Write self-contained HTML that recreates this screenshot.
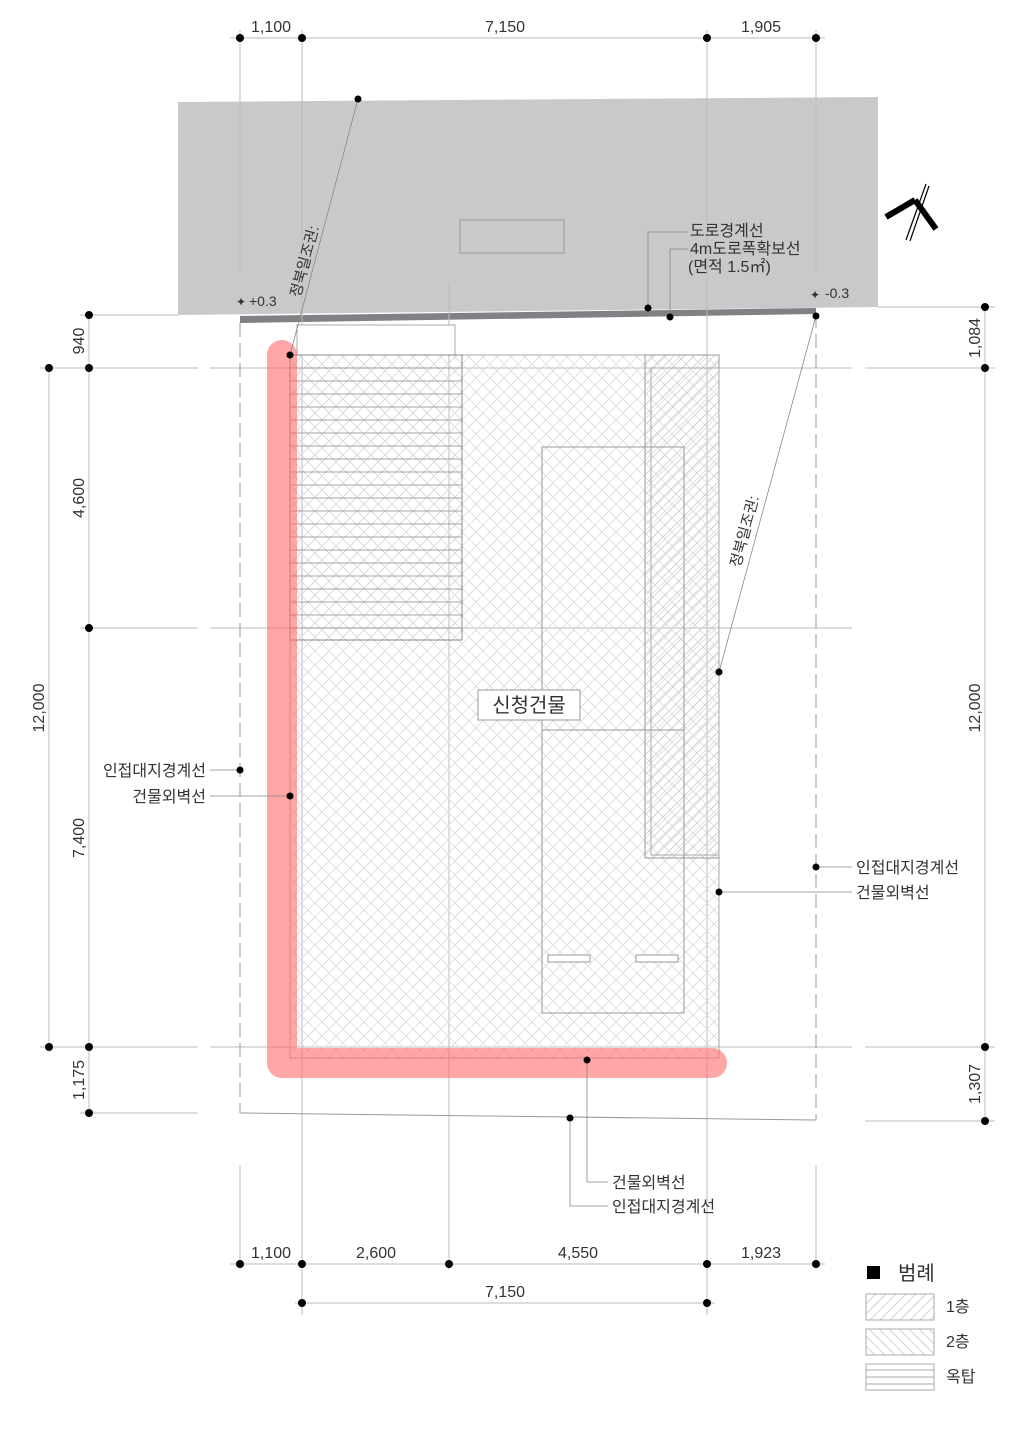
<!DOCTYPE html>
<html><head><meta charset="utf-8"><style>
html,body{margin:0;padding:0;background:#fff}
svg{display:block}
text{font-family:"Liberation Sans","Noto Sans CJK KR",sans-serif;fill:#333}
</style></head><body>
<svg width="1024" height="1429" viewBox="0 0 1024 1429" xmlns="http://www.w3.org/2000/svg">
<defs>
<pattern id="h1" width="10" height="10" patternUnits="userSpaceOnUse"><path d="M0 10L10 0M-2 2L2 -2M8 12L12 8" stroke="#ccc" stroke-width="0.8"/></pattern>
<pattern id="h2" width="10" height="10" patternUnits="userSpaceOnUse"><path d="M0 0L10 10M-2 8L2 12M8 -2L12 2" stroke="#ccc" stroke-width="0.8"/></pattern>
<pattern id="hx" width="14" height="14" patternUnits="userSpaceOnUse"><path d="M0 0L14 14M14 0L0 14" stroke="#dcdcdc" stroke-width="0.8"/></pattern>
</defs>
<polygon points="178,102 878,97 878,307 178,315" fill="#c8c9cb"/>
<polygon points="240,316 816,308 816,314 240,323" fill="#808184"/>
<rect x="460" y="220" width="104" height="33" fill="none" stroke="#999"/>
<g stroke="#bbb" stroke-width="1">
<line x1="240" y1="30" x2="240" y2="270"/><line x1="302" y1="30" x2="302" y2="1315"/>
<line x1="707" y1="30" x2="707" y2="1315"/><line x1="816" y1="30" x2="816" y2="270"/>
<line x1="449" y1="283" x2="449" y2="1270"/>
<line x1="240" y1="1165" x2="240" y2="1270"/><line x1="816" y1="1165" x2="816" y2="1270"/>
<line x1="230" y1="38" x2="825" y2="38"/>
<line x1="230" y1="1264" x2="825" y2="1264"/><line x1="295" y1="1303" x2="715" y2="1303"/>
<line x1="40" y1="368" x2="198" y2="368"/><line x1="210" y1="368" x2="852" y2="368"/><line x1="865" y1="368" x2="995" y2="368"/>
<line x1="80" y1="628" x2="198" y2="628"/><line x1="210" y1="628" x2="852" y2="628"/>
<line x1="40" y1="1047" x2="198" y2="1047"/><line x1="210" y1="1047" x2="852" y2="1047"/><line x1="865" y1="1047" x2="995" y2="1047"/>
<line x1="80" y1="315" x2="178" y2="315"/><line x1="878" y1="307" x2="995" y2="307"/>
<line x1="80" y1="1113" x2="198" y2="1113"/><line x1="865" y1="1121" x2="995" y2="1121"/>
<line x1="89" y1="315" x2="89" y2="1113"/><line x1="49" y1="368" x2="49" y2="1047"/>
<line x1="985" y1="307" x2="985" y2="1121"/>
</g>
<g stroke="#999" stroke-width="1" fill="none">
<line x1="240" y1="323" x2="240" y2="1113" stroke-dasharray="14,6"/>
<line x1="816" y1="314" x2="816" y2="1120" stroke-dasharray="14,6"/>
<line x1="240" y1="1113" x2="816" y2="1120"/>
</g>
<rect x="290" y="355" width="429" height="703" fill="url(#hx)" stroke="#aaa"/>
<rect x="645" y="355" width="74" height="503" fill="url(#h1)" stroke="#999"/>
<rect x="651" y="368" width="68" height="487" fill="none" stroke="#aaa"/>
<rect x="297" y="325" width="158" height="30" fill="#fff" stroke="#aaa"/>
<rect x="290" y="355" width="172" height="285" fill="url(#hx)" stroke="#888"/>
<g stroke="#888" stroke-width="0.8">
<line x1="290" y1="368" x2="462" y2="368"/><line x1="290" y1="381" x2="462" y2="381"/><line x1="290" y1="394" x2="462" y2="394"/><line x1="290" y1="407" x2="462" y2="407"/><line x1="290" y1="420" x2="462" y2="420"/><line x1="290" y1="433" x2="462" y2="433"/><line x1="290" y1="446" x2="462" y2="446"/><line x1="290" y1="459" x2="462" y2="459"/><line x1="290" y1="472" x2="462" y2="472"/><line x1="290" y1="485" x2="462" y2="485"/><line x1="290" y1="498" x2="462" y2="498"/><line x1="290" y1="511" x2="462" y2="511"/><line x1="290" y1="524" x2="462" y2="524"/><line x1="290" y1="537" x2="462" y2="537"/><line x1="290" y1="550" x2="462" y2="550"/><line x1="290" y1="563" x2="462" y2="563"/><line x1="290" y1="576" x2="462" y2="576"/><line x1="290" y1="589" x2="462" y2="589"/><line x1="290" y1="602" x2="462" y2="602"/><line x1="290" y1="615" x2="462" y2="615"/><line x1="290" y1="628" x2="462" y2="628"/>
</g>
<rect x="542" y="447" width="142" height="566" fill="none" stroke="#999"/>
<line x1="542" y1="730" x2="684" y2="730" stroke="#999"/>
<rect x="548" y="955" width="42" height="7" fill="#fff" stroke="#999"/>
<rect x="636" y="955" width="42" height="7" fill="#fff" stroke="#999"/>
<rect x="478" y="690" width="102" height="30" fill="#fff" stroke="#999"/>
<text x="529" y="712" font-size="20" text-anchor="middle">신청건물</text>
<path d="M282 355 L282 1063 L712 1063" fill="none" stroke="#ff6b6b" stroke-opacity="0.6" stroke-width="30" stroke-linecap="round" stroke-linejoin="round"/>
<g stroke="#888" stroke-width="0.8" fill="none">
<line x1="358" y1="99" x2="290" y2="355"/>
<line x1="816" y1="316" x2="719" y2="672"/>
<polyline points="648,308 648,232 688,232"/><polyline points="670,317 670,249 688,249"/>
<line x1="210" y1="770" x2="240" y2="770"/><line x1="210" y1="796" x2="290" y2="796"/>
<line x1="816" y1="867" x2="852" y2="867"/><line x1="719" y1="892" x2="852" y2="892"/>
<polyline points="587,1060 587,1182 608,1182"/><polyline points="570,1118 570,1206 608,1206"/>
</g>
<g fill="#000">
<circle cx="240" cy="38" r="4"/><circle cx="302" cy="38" r="4"/><circle cx="707" cy="38" r="4"/><circle cx="816" cy="38" r="4"/>
<circle cx="240" cy="1264" r="4"/><circle cx="302" cy="1264" r="4"/><circle cx="449" cy="1264" r="4"/><circle cx="707" cy="1264" r="4"/><circle cx="816" cy="1264" r="4"/>
<circle cx="302" cy="1303" r="4"/><circle cx="707" cy="1303" r="4"/>
<circle cx="89" cy="315" r="4"/><circle cx="89" cy="368" r="4"/><circle cx="89" cy="628" r="4"/><circle cx="89" cy="1047" r="4"/><circle cx="89" cy="1113" r="4"/>
<circle cx="49" cy="368" r="4"/><circle cx="49" cy="1047" r="4"/>
<circle cx="985" cy="307" r="4"/><circle cx="985" cy="368" r="4"/><circle cx="985" cy="1047" r="4"/><circle cx="985" cy="1121" r="4"/>
<circle cx="358" cy="99" r="3.5"/><circle cx="290" cy="355" r="3.5"/><circle cx="648" cy="308" r="3.5"/><circle cx="670" cy="317" r="3.5"/>
<circle cx="816" cy="316" r="3.5"/><circle cx="719" cy="672" r="3.5"/><circle cx="240" cy="770" r="3.5"/><circle cx="290" cy="796" r="3.5"/>
<circle cx="816" cy="867" r="3.5"/><circle cx="719" cy="892" r="3.5"/><circle cx="587" cy="1060" r="3.5"/><circle cx="570" cy="1118" r="3.5"/>
</g>
<g font-size="16">
<text x="271" y="32" text-anchor="middle">1,100</text><text x="505" y="32" text-anchor="middle">7,150</text><text x="761" y="32" text-anchor="middle">1,905</text>
<text x="271" y="1258" text-anchor="middle">1,100</text><text x="376" y="1258" text-anchor="middle">2,600</text><text x="578" y="1258" text-anchor="middle">4,550</text><text x="761" y="1258" text-anchor="middle">1,923</text>
<text x="505" y="1297" text-anchor="middle">7,150</text>
<text transform="translate(84,341) rotate(-90)" text-anchor="middle">940</text>
<text transform="translate(84,498) rotate(-90)" text-anchor="middle">4,600</text>
<text transform="translate(84,838) rotate(-90)" text-anchor="middle">7,400</text>
<text transform="translate(84,1080) rotate(-90)" text-anchor="middle">1,175</text>
<text transform="translate(44,708) rotate(-90)" text-anchor="middle">12,000</text>
<text transform="translate(980,338) rotate(-90)" text-anchor="middle">1,084</text>
<text transform="translate(980,708) rotate(-90)" text-anchor="middle">12,000</text>
<text transform="translate(980,1084) rotate(-90)" text-anchor="middle">1,307</text>
</g>
<g font-size="16">
<text x="690" y="236">도로경계선</text><text x="690" y="254">4m도로폭확보선</text><text x="688" y="272">(면적 1.5㎡)</text>
<text x="206" y="776" text-anchor="end">인접대지경계선</text><text x="206" y="802" text-anchor="end">건물외벽선</text>
<text x="856" y="873">인접대지경계선</text><text x="856" y="898">건물외벽선</text>
<text x="612" y="1188">건물외벽선</text><text x="612" y="1212">인접대지경계선</text>
<text x="249" y="306" font-size="14">+0.3</text><text x="825" y="298" font-size="14">-0.3</text>
<text transform="translate(300,298) rotate(-75)" font-size="15">정북일조권:</text>
<text transform="translate(740,568) rotate(-75)" font-size="15">정북일조권:</text>
</g>
<text x="236" y="306" font-size="12">✦</text><text x="810" y="299" font-size="12">✦</text>
<g stroke="#000" stroke-linecap="butt">
<line x1="886" y1="217" x2="915" y2="200" stroke-width="6"/>
<line x1="915" y1="200" x2="936" y2="229" stroke-width="6"/>
<line x1="906" y1="240" x2="926" y2="184" stroke-width="1.2"/>
<line x1="910" y1="241" x2="929" y2="186" stroke-width="1.2"/>
</g>
<rect x="867" y="1266" width="13" height="13" fill="#000"/>
<text x="898" y="1280" font-size="20">범례</text>
<rect x="866" y="1294" width="68" height="26" fill="url(#h1)" stroke="#aaa"/>
<rect x="866" y="1329" width="68" height="26" fill="url(#h2)" stroke="#aaa"/>
<rect x="866" y="1364" width="68" height="26" fill="#fff" stroke="#aaa"/>
<g stroke="#aaa"><line x1="866" y1="1370" x2="934" y2="1370"/><line x1="866" y1="1377" x2="934" y2="1377"/><line x1="866" y1="1384" x2="934" y2="1384"/></g>
<text x="946" y="1312" font-size="16">1층</text><text x="946" y="1347" font-size="16">2층</text><text x="946" y="1382" font-size="16">옥탑</text>
</svg>
</body></html>
